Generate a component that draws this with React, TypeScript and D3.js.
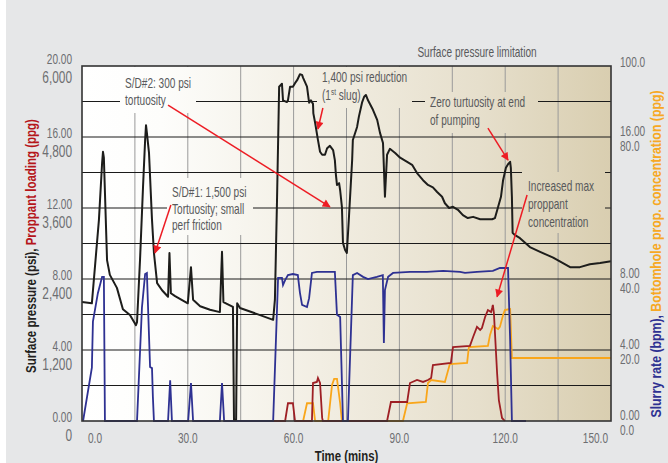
import * as React from 'react'
import * as d3 from 'd3'

// [time (mins), surface pressure (psi)]
const pressure: [number, number][] = [
    [0, 2010], [2.8, 1990], [4.8, 3400], [5.7, 4360], [5.95, 4550], [6.2, 4450], [7.1, 2720], [7.9, 2470],
    [9.9, 2250], [11.6, 1890], [13.6, 1790], [15.3, 1620], [15.6, 1670], [16.45, 2720], [17.3, 3950],
    [17.9, 4750], [18.15, 5000], [18.4, 4870], [19.0, 4530], [19.85, 3400], [20.4, 2840], [21.3, 2330],
    [22.7, 2210], [24.4, 2100], [24.8, 2840], [25.2, 2160], [26.4, 2110], [30.0, 1990], [30.9, 2600],
    [31.5, 2050], [33.5, 1940], [36.3, 1880], [39.1, 1840], [39.7, 2860], [40.1, 2010], [42.8, 1930],
    [43.1, 20], [43.7, 20], [44.0, 1990], [44.8, 1910], [50.5, 1790], [54.2, 1710], [54.7, 2050],
    [55.3, 3740], [55.9, 5650], [56.7, 5700], [57.0, 5420], [58.1, 5390], [58.4, 5420], [59.0, 5650],
    [59.8, 5650], [60.4, 5710], [61.0, 5760], [61.8, 5860], [62.4, 5850], [62.7, 5800], [63.8, 5650],
    [64.4, 5380], [64.9, 5420], [65.5, 5360], [65.6, 5200], [66.1, 5040], [66.9, 4750], [67.5, 4550],
    [68.1, 4500], [68.9, 4500], [69.5, 4610], [70.3, 4650], [71.2, 4580], [71.7, 4410], [72.0, 4160],
    [72.3, 3990], [72.9, 4020], [73.2, 3900], [73.7, 3620], [74.0, 3010], [74.6, 2890], [75.1, 2840],
    [75.7, 3450], [76.6, 4410], [76.8, 4750], [78.0, 4970], [78.5, 5140], [79.4, 5380], [80.0, 5480],
    [80.5, 5510], [81.1, 5420], [82.5, 5260], [83.7, 5090], [84.5, 4870], [85.35, 4700], [85.9, 3790],
    [86.5, 4500], [87.3, 4600], [88.8, 4530], [90.2, 4450], [92.2, 4380], [93.6, 4330], [95.0, 4190],
    [96.7, 4070], [98.1, 3990], [99.5, 3950], [100.7, 3870], [102.1, 3790], [102.9, 3680], [104.1, 3600],
    [105.2, 3620], [106.6, 3570], [108.0, 3480], [109.4, 3430], [110.9, 3450], [112.9, 3410], [116.3, 3410],
    [117.1, 3430], [118.0, 3620], [118.8, 3790], [119.4, 4070], [120.2, 4280], [120.8, 4340], [121.4, 4380],
    [121.6, 4280], [121.9, 3790], [122.1, 3180], [122.8, 3140], [124.2, 3090], [127.0, 2940], [129.9, 2860],
    [133.6, 2760], [138.4, 2600], [141.2, 2600], [144.0, 2650], [146.9, 2670], [150, 2700],
]

// [time (mins), slurry rate (bpm)]
const slurryRate: [number, number][] = [
    [0.3, 0], [2.8, 15], [3.1, 28], [4.5, 36], [5.7, 40.6], [6.2, 40.6], [6.5, 0], [15.6, 0], [17.0, 32],
    [17.9, 41.4], [18.4, 41.7], [19.3, 15.2], [19.85, 14.9], [20.1, 6.8], [20.4, 0], [24.4, 0], [25.0, 11.5],
    [25.5, 0], [30.1, 0], [30.9, 10.7], [31.5, 0], [39.1, 0], [39.7, 10.7], [40.3, 0], [54.2, 0], [55.6, 40.3],
    [56.7, 40.3], [57.0, 38.3], [57.6, 39.7], [58.4, 41.1], [59.8, 41.4], [61.2, 41.1], [61.8, 36.1],
    [62.4, 32.7], [63.8, 32.1], [64.4, 34.6], [65.2, 41.7], [66.6, 42], [71.7, 42], [72.3, 29.9], [73.2, 29.3],
    [74.0, 0], [75.4, 0], [76.8, 41.1], [78.0, 41.7], [79.7, 40.6], [81.1, 40], [83.6, 40.6], [85.3, 41.1],
    [85.6, 22], [85.9, 36.9], [86.8, 40.6], [88.2, 41.7], [93.0, 42], [97.8, 42], [102.4, 42.3], [107.2, 42],
    [108.6, 41.7], [112.0, 42], [116.5, 42.3], [118.5, 43.1], [120.8, 43.1], [121.4, 22.8], [121.9, 0],
    [125.9, 0],
]

// [time (mins), proppant loading (ppg)]
const proppantLoading: [number, number][] = [
    [43.7, 0], [57.6, 0], [58.4, 1.0], [59.8, 1.0], [60.4, 0], [65.2, 0], [65.5, 2.14], [66.6, 2.2],
    [66.9, 2.42], [67.5, 2.14], [68.1, 0.17], [68.3, 0], [86.5, 0], [87.6, 1.07], [92.2, 1.07], [93.0, 2.14],
    [95.0, 2.31], [96.7, 2.2], [98.1, 2.31], [99.0, 2.42], [99.5, 3.15], [104.6, 3.27], [105.2, 4.17],
    [110.0, 4.23], [110.9, 4.73], [112.0, 5.3], [112.9, 5.13], [113.4, 5.24], [114.3, 5.86], [115.1, 6.25],
    [116.0, 6.14], [116.3, 6.37], [116.5, 6.54], [116.8, 6.08], [117.7, 2.7], [118.2, 1.18], [119.1, 0.17],
    [119.9, 0],
]

// [time (mins), bottomhole prop. concentration (ppg)]
const bottomholeConc: [number, number][] = [
    [61.8, 0], [62.7, 0], [63.8, 1.0], [65.5, 1.0], [66.1, 0], [69.8, 0], [70.9, 2.03], [71.5, 2.37],
    [72.3, 2.37], [73.2, 1.0], [73.7, 0], [91.0, 0], [92.2, 1.0], [97.5, 1.07], [98.1, 2.14], [99.0, 2.31],
    [102.9, 2.2], [104.3, 3.21], [109.2, 3.27], [109.7, 4.17], [115.1, 4.23], [115.7, 4.85], [116.5, 5.35],
    [118.0, 5.18], [118.5, 5.3], [119.4, 5.97], [119.9, 6.25], [121.4, 6.31], [121.9, 3.55], [150, 3.55],
]

const timeTicks = [0, 30, 60, 90, 120, 150]
const pressureTicks = [0, 1200, 2400, 3600, 4800, 6000]
const loadingTicks = [0, 4, 8, 12, 16, 20]
const rateTicks = [0, 20, 40, 80, 100]
const concTicks = [0, 4, 8, 16]

const W = 668
const H = 463
const PL = 82
const PT = 66
const PR = 611
const PB = 421

const FONT = 'Liberation Sans, Arial, sans-serif'
const GREY = '#58595b'
const ARROW = '#ed1c24'

function T(props: { x: number, y: number, sx?: number, size?: number, anchor?: string, fill?: string, weight?: string, rotate?: number, children?: any }) {
    const { x, y, sx = 0.72, size = 14, anchor = 'start', fill = GREY, weight = 'normal', rotate = 0 } = props
    return <text
        transform={`translate(${x},${y})${rotate ? ` rotate(${rotate})` : ''} scale(${sx},1)`}
        textAnchor={anchor}
        fontSize={size}
        fontWeight={weight}
        fill={fill}
    >{props.children}</text>
}

function Note(props: { x: number, y: number, lines: any[], gap?: number }) {
    const gap = props.gap || 17
    return <g>{props.lines.map((l, i) => <T key={i} x={props.x} y={props.y + i * gap}>{l}</T>)}</g>
}

export default function App() {
    const x = d3.scaleLinear().domain([0, 150]).range([PL, PR])
    const yP = d3.scaleLinear().domain([0, 6000]).range([PB, PT])
    const yL = d3.scaleLinear().domain([0, 20]).range([PB, PT])
    const yR = d3.scaleLinear().domain([0, 100]).range([PB, PT])

    const path = (ys: d3.ScaleLinear<number, number>, data: [number, number][]) =>
        d3.line<[number, number]>().x(d => x(d[0])).y(d => ys(d[1]))(data) as string

    const hGrid = d3.range(1, 10).map(i => i * 600)
    const vGrid = d3.range(1, 10).map(i => i * 15)

    // arrows in data coordinates: [t0, p0, t1, p1]
    const arrows = [
        [24.4, 5340, 70.3, 3620],
        [25.2, 3650, 20.7, 2840],
        [68.3, 5290, 66.9, 4935],
        [115.1, 4950, 120.8, 4410],
        [126.2, 3820, 117.7, 2100],
    ]

    // background patches behind the notes, hiding gridlines
    const patches = [
        [120, PT + 1, 76, 46],
        [167, 178, 86, 57],
        [317, PT + 1, 95, 41],
        [425, 92, 113, 41],
        [522, 172, 83, 61],
    ]

    return <svg width={W} height={H} viewBox={`0 0 ${W} ${H}`} style={{ position: 'absolute', left: 0, top: 0 }} fontFamily={FONT}>
        <defs>
            <linearGradient id="bg" gradientUnits="userSpaceOnUse" x1={PL} x2={PR} y1={0} y2={0}>
                <stop offset="0" stopColor="#ffffff" />
                <stop offset="0.15" stopColor="#fdfdfb" />
                <stop offset="0.45" stopColor="#f2eee3" />
                <stop offset="0.75" stopColor="#e6dfcc" />
                <stop offset="1" stopColor="#d9ceb0" />
            </linearGradient>
            <marker id="arr" viewBox="0 0 10 10" refX="9" refY="5" markerWidth="9" markerHeight="8" markerUnits="userSpaceOnUse" orient="auto">
                <path d="M0,0L10,5L0,10z" fill={ARROW} />
            </marker>
        </defs>
        <rect width={W} height={H} fill="#e6e7e8" />
        <rect width={6} height={H} fill="#ffffff" />
        <rect x={PL} y={PT} width={PR - PL} height={PB - PT} fill="url(#bg)" />

        {vGrid.map(v => <line key={'v' + v} x1={x(v)} x2={x(v)} y1={PT} y2={PB} stroke="#9a9a9a" strokeWidth={1} />)}
        {hGrid.map(v => <line key={'h' + v} x1={PL} x2={PR} y1={yP(v)} y2={yP(v)} stroke="#1a1a1a" strokeWidth={1} />)}

        {patches.map((p, i) => <rect key={i} x={p[0]} y={p[1]} width={p[2]} height={p[3]} fill="url(#bg)" />)}

        <path d={path(yL, bottomholeConc)} fill="none" stroke="#f9a61a" strokeWidth={1.8} />
        <path d={path(yL, proppantLoading)} fill="none" stroke="#9e1f24" strokeWidth={1.8} />
        <path d={path(yR, slurryRate)} fill="none" stroke="#2e3192" strokeWidth={1.8} />
        <path d={path(yP, pressure)} fill="none" stroke="#1d1d1b" strokeWidth={2} strokeLinejoin="round" />

        <rect x={PL} y={PT} width={PR - PL} height={PB - PT} fill="none" stroke="#333" strokeWidth={1.6} />

        {arrows.map((a, i) => <line key={i} x1={x(a[0])} y1={yP(a[1])} x2={x(a[2])} y2={yP(a[3])} stroke={ARROW} strokeWidth={1.5} markerEnd="url(#arr)" />)}

        <Note x={125} y={88} lines={['S/D#2: 300 psi', 'tortuosity']} />
        <Note x={172} y={197} lines={['S/D#1: 1,500 psi', 'Tortuosity; small', 'perf friction']} gap={16.5} />
        <Note x={322} y={82} lines={['1,400 psi reduction', <>(1<tspan fontSize={9} dy={-5}>st</tspan><tspan dy={5}> slug)</tspan></>]} gap={18} />
        <Note x={430} y={107} lines={['Zero turtuosity at end', 'of pumping']} gap={18} />
        <Note x={528} y={191} lines={['Increased max', 'proppant', 'concentration']} gap={18} />
        <T x={477} y={57} anchor="middle">Surface pressure limitation</T>

        {loadingTicks.map(v => <T key={'l' + v} x={72} y={yL(v) + (v === 20 ? -2 : 1)} anchor="end" fill="#6d6e71">{v.toFixed(2)}</T>)}
        {pressureTicks.map(v => <T key={'p' + v} x={72} y={yP(v) + (v === 6000 ? 17 : 20)} anchor="end" size={16.5} sx={0.72} fill="#6d6e71">{d3.format(',')(v)}</T>)}
        {concTicks.map(v => <T key={'c' + v} x={620} y={yL(v) - 1.5} fill="#6d6e71">{v.toFixed(2)}</T>)}
        {rateTicks.map(v => <T key={'r' + v} x={620} y={yR(v) + (v === 100 ? 1 : 14)} fill="#6d6e71">{v.toFixed(1)}</T>)}
        {timeTicks.map((v, i) => <T key={'t' + v} x={x(v) + (i === 0 ? 6 : i === timeTicks.length - 1 ? -3 : 0)} y={443}
            anchor={i === 0 ? 'start' : i === timeTicks.length - 1 ? 'end' : 'middle'} fill="#6d6e71">{v.toFixed(1)}</T>)}

        <T x={(PL + PR) / 2} y={461} anchor="middle" size={15} sx={0.76} weight="bold" fill="#231f20">Time (mins)</T>
        <T x={36} y={246} anchor="middle" size={14} sx={0.82} weight="bold" rotate={-90} fill="#231f20">
            Surface pressure (psi), <tspan fill="#b5161b">Proppant loading (ppg)</tspan>
        </T>
        <T x={661} y={254} anchor="middle" size={15} sx={0.82} weight="bold" rotate={-90} fill="#2e3192">
            Slurry rate (bpm), <tspan fill="#f7a823">Bottomhole prop. concentration (ppg)</tspan>
        </T>
    </svg>
}
